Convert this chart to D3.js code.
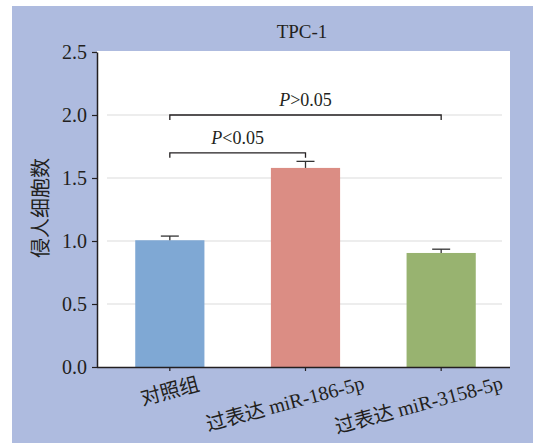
<!DOCTYPE html>
<html>
<head>
<meta charset="utf-8">
<script src="https://cdn.jsdelivr.net/npm/d3@7"></script>
<style>
  body { margin: 0; background: #fff; }
  svg text { font-family: "Liberation Serif", "Noto Sans CJK SC", serif; fill: #231f20; }
</style>
</head>
<body>
<svg id="chart"></svg>
<script>
const groups = ["对照组", "过表达 miR-186-5p", "过表达 miR-3158-5p"];
const means = [1.006, 1.58, 0.905];
const errors = [0.033, 0.052, 0.030];
const barColors = ["#7fa8d4", "#db8d84", "#98b370"];
const yTicks = [0, 0.5, 1.0, 1.5, 2.0, 2.5];
const gridTicks = [0.5, 1.0, 1.5, 2.0];
const comparisons = [
  { from: 0, to: 1, y: 1.7, sign: "<" },
  { from: 0, to: 2, y: 2.0, sign: ">" }
];

const width = 533, height = 443;
const margin = { top: 52, right: 23, bottom: 76, left: 97 };
const svg = d3.select("#chart").attr("width", width).attr("height", height);

// background panel
svg.append("rect").attr("x", 12).attr("y", 6).attr("width", width - 12).attr("height", height - 6).attr("fill", "#aebbdf");
svg.append("rect").attr("x", margin.left).attr("y", margin.top - 1).attr("width", width - margin.right - margin.left).attr("height", height - margin.bottom - margin.top + 1).attr("fill", "#fff");

const x = d3.scaleBand().domain(groups).range([margin.left + 5, width - margin.right - 1]).paddingInner(0.49).paddingOuter(0.245);
const y = d3.scaleLinear().domain([0, 2.5]).range([height - margin.bottom, margin.top]);

// gridlines
svg.append("g").selectAll("line").data(gridTicks).enter().append("line")
  .attr("x1", margin.left + 10).attr("x2", width - margin.right - 8)
  .attr("y1", d => y(d)).attr("y2", d => y(d))
  .attr("stroke", "#dcdcdc").attr("stroke-width", 1.2);

// bars
svg.append("g").selectAll("rect").data(groups).enter().append("rect")
  .attr("x", d => x(d)).attr("width", x.bandwidth())
  .attr("y", (d, i) => y(means[i])).attr("height", (d, i) => y(0) - y(means[i]))
  .attr("fill", (d, i) => barColors[i]);

// error bars
const eb = svg.append("g").attr("stroke", "#333").attr("stroke-width", 1.3);
groups.forEach((g, i) => {
  const cx = x(g) + x.bandwidth() / 2;
  eb.append("line").attr("x1", cx).attr("x2", cx).attr("y1", y(means[i])).attr("y2", y(means[i] + errors[i]));
  eb.append("line").attr("x1", cx - 9).attr("x2", cx + 9).attr("y1", y(means[i] + errors[i])).attr("y2", y(means[i] + errors[i]));
});

// y axis
const yAxis = svg.append("g").attr("transform", `translate(${margin.left},0)`)
  .call(d3.axisLeft(y).tickValues(yTicks).tickFormat(d3.format(".1f")).tickSize(5).tickSizeOuter(0));
yAxis.select(".domain").attr("stroke", "#231f20").attr("stroke-width", 1.5);
yAxis.selectAll(".tick line").attr("stroke", "#231f20").attr("stroke-width", 1.2);
yAxis.selectAll(".tick text").attr("x", -10).style("font-size", "20px").style("font-family", "Liberation Serif");

// x axis
const xAxis = svg.append("g").attr("transform", `translate(0,${y(0)})`)
  .call(d3.axisBottom(x).tickSize(4).tickSizeOuter(0).tickFormat(""));
xAxis.select(".domain").attr("d", `M${margin.left},0.5H${width - margin.right}`).attr("stroke", "#231f20").attr("stroke-width", 1.5);
xAxis.selectAll(".tick line").attr("stroke", "#231f20").attr("stroke-width", 1.2);

// rotated category labels
svg.append("g").selectAll("text").data(groups).enter().append("text")
  .text(d => d)
  .style("font-size", "20px")
  .attr("text-anchor", "middle")
  .attr("dominant-baseline", "central")
  .attr("transform", function(d) {
    const L = this.getComputedTextLength();
    const cx = x(d) + x.bandwidth() / 2 - 0.2 * (L - 60);
    const cy = 391 + 0.12 * (L - 60);
    return `translate(${cx},${cy}) rotate(-15)`;
  });

// y label
svg.append("text").attr("transform", `translate(41,208) rotate(-90)`).attr("text-anchor", "middle")
  .attr("dominant-baseline", "central").style("font-size", "20px").text("侵人细胞数");

// title
svg.append("text").attr("x", 302).attr("y", 38).attr("text-anchor", "middle").style("font-size", "19px").text("TPC-1");

// significance brackets
comparisons.forEach(c => {
  const x1 = x(groups[c.from]) + x.bandwidth() / 2;
  const x2 = x(groups[c.to]) + x.bandwidth() / 2;
  const yy = y(c.y);
  svg.append("path").attr("d", `M${x1},${yy + 5}V${yy}H${x2}V${yy + 5}`)
    .attr("fill", "none").attr("stroke", "#231f20").attr("stroke-width", 1.3);
  const t = svg.append("text").attr("x", (x1 + x2) / 2).attr("y", yy - 9).attr("text-anchor", "middle").style("font-size", "18px");
  t.append("tspan").style("font-style", "italic").text("P");
  t.append("tspan").text(`${c.sign}0.05`);
});
</script>
</body>
</html>
